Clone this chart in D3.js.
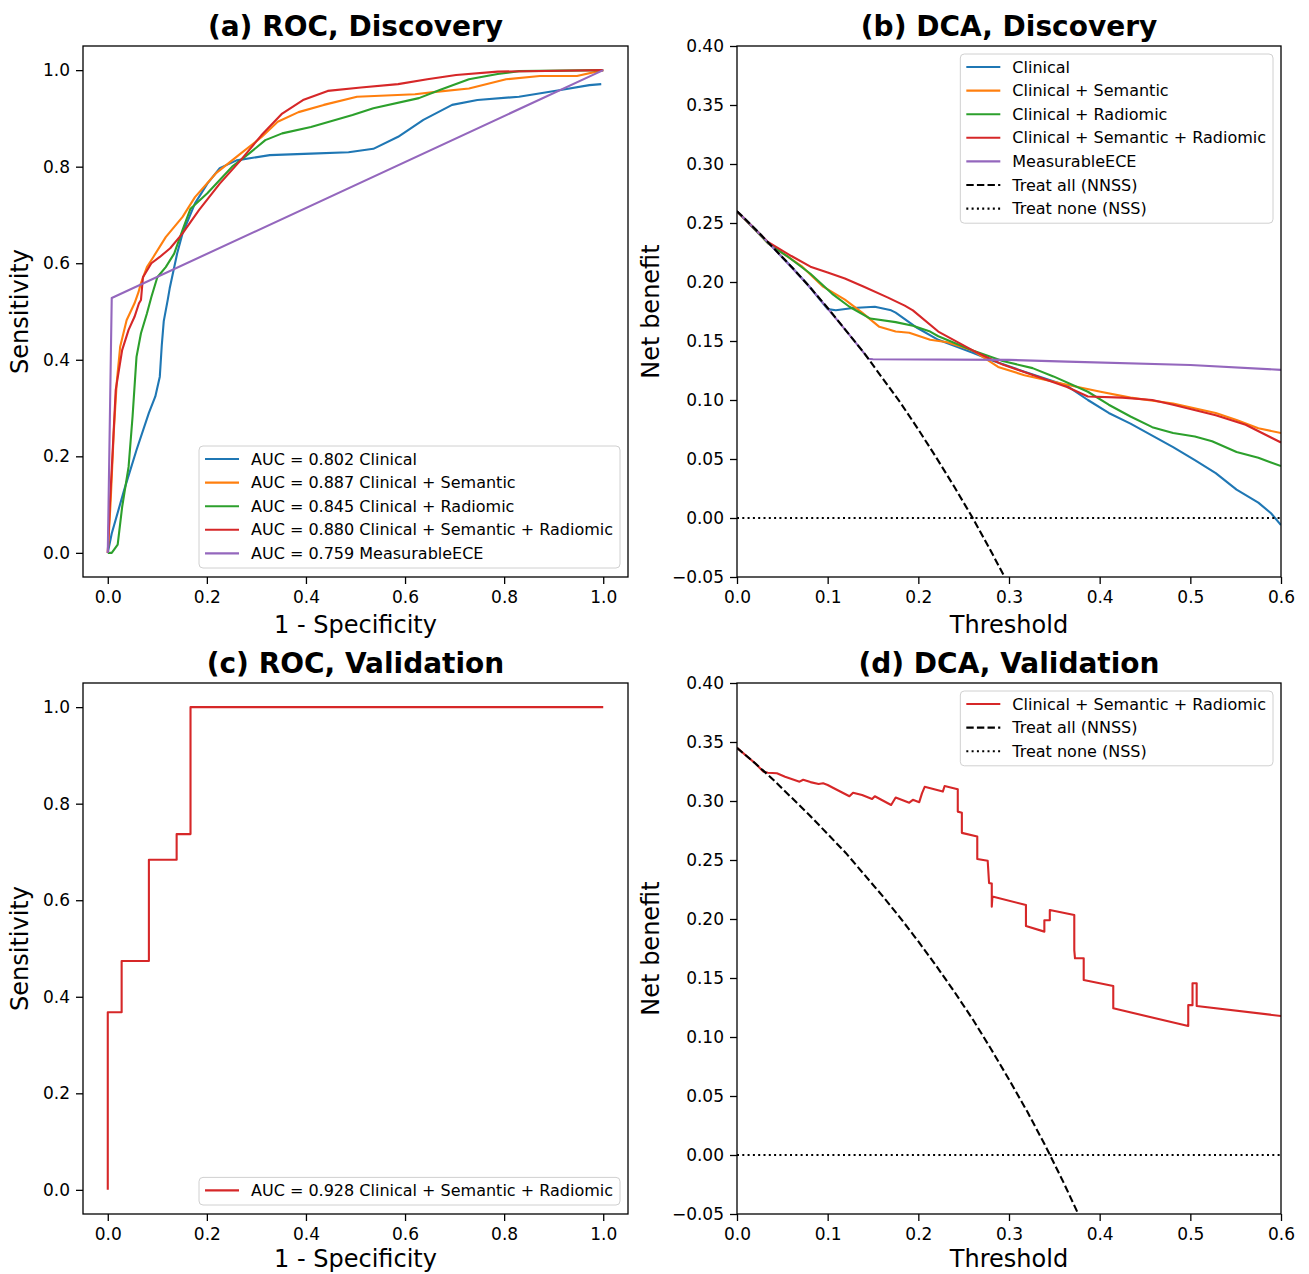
<!DOCTYPE html>
<html>
<head>
<meta charset="utf-8">
<script src="https://cdn.jsdelivr.net/npm/d3@7"></script>
<style>
  body { margin: 0; background: #fff; }
  svg { font-family: 'DejaVu Sans', sans-serif; }
  .tick text { font-size: 17px; fill: #000; }
  .title { font-size: 28px; font-weight: bold; }
  .label { font-size: 24px; }
  .legend text { font-size: 16px; }
</style>
</head>
<body>
<svg width="1309" height="1274"></svg>
<script>
// ---- data ----
const rocTicks = [0, 0.2, 0.4, 0.6, 0.8, 1.0];
const dcaXTicks = [0, 0.1, 0.2, 0.3, 0.4, 0.5, 0.6];
const dcaYTicks = [-0.05, 0, 0.05, 0.10, 0.15, 0.20, 0.25, 0.30, 0.35, 0.40];

const modelNames = ['Clinical', 'Clinical + Semantic', 'Clinical + Radiomic',
  'Clinical + Semantic + Radiomic', 'MeasurableECE'];
const modelColors = ['#1f77b4', '#ff7f0e', '#2ca02c', '#d62728', '#9467bd'];
const aucDiscovery = ['0.802', '0.887', '0.845', '0.880', '0.759'];
const aucValidation = '0.928';

// ROC, discovery: [1 - specificity, sensitivity]
const rocClinical = [[0,0],[0.008,0.04],[0.033,0.13],[0.058,0.213],[0.083,0.29],[0.096,0.324],
  [0.105,0.365],[0.109,0.43],[0.113,0.48],[0.121,0.524],[0.125,0.548],[0.14,0.62],[0.151,0.662],
  [0.176,0.724],[0.201,0.765],[0.226,0.797],[0.26,0.813],[0.327,0.824],[0.41,0.827],[0.486,0.83],
  [0.536,0.837],[0.586,0.862],[0.637,0.897],[0.695,0.928],[0.746,0.938],[0.83,0.945],[0.914,0.959],
  [0.972,0.969],[0.996,0.971]];
const rocSemantic = [[0,0],[0.006,0.11],[0.012,0.248],[0.018,0.352],[0.025,0.427],[0.038,0.482],
  [0.054,0.517],[0.062,0.54],[0.067,0.559],[0.079,0.592],[0.092,0.613],[0.117,0.654],[0.151,0.696],
  [0.176,0.737],[0.218,0.786],[0.268,0.827],[0.31,0.861],[0.343,0.893],[0.385,0.913],[0.436,0.928],
  [0.503,0.945],[0.62,0.95],[0.662,0.955],[0.729,0.962],[0.804,0.981],[0.872,0.988],[0.947,0.988],[1,1]];
const rocRadiomic = [[0,0],[0.008,0],[0.02,0.017],[0.029,0.095],[0.042,0.178],[0.05,0.282],
  [0.058,0.406],[0.067,0.455],[0.079,0.496],[0.088,0.53],[0.1,0.571],[0.117,0.592],[0.134,0.62],
  [0.151,0.669],[0.167,0.713],[0.201,0.745],[0.251,0.8],[0.285,0.827],[0.318,0.855],[0.352,0.869],
  [0.41,0.882],[0.494,0.907],[0.536,0.921],[0.628,0.942],[0.67,0.959],[0.729,0.981],[0.787,0.992],
  [0.83,0.998],[1,1]];
const rocCombined = [[0,0],[0.004,0.095],[0.01,0.213],[0.016,0.337],[0.029,0.42],[0.042,0.462],
  [0.054,0.489],[0.063,0.517],[0.067,0.524],[0.071,0.571],[0.088,0.6],[0.105,0.613],[0.126,0.631],
  [0.151,0.662],[0.184,0.71],[0.226,0.765],[0.268,0.813],[0.31,0.865],[0.352,0.91],[0.394,0.938],
  [0.444,0.957],[0.511,0.964],[0.586,0.971],[0.645,0.981],[0.703,0.99],[0.787,0.997],[1,1]];
const rocMeasurable = [[0,0],[0.008,0.528],[1,1]];

// ROC, validation
const rocValidation = [[0,0],[0,0.368],[0.028,0.368],[0.028,0.474],[0.083,0.474],[0.083,0.684],
  [0.139,0.684],[0.139,0.737],[0.167,0.737],[0.167,1],[1,1]];

// DCA, discovery: [threshold, net benefit]
const dcaClinical = [[0,0.26],[0.02,0.245],[0.04,0.229],[0.06,0.213],[0.08,0.196],[0.1,0.177],
  [0.109,0.176],[0.128,0.178],[0.152,0.179],[0.17,0.176],[0.175,0.174],[0.199,0.161],[0.222,0.151],
  [0.26,0.14],[0.283,0.133],[0.317,0.124],[0.364,0.112],[0.387,0.1],[0.41,0.089],[0.434,0.08],
  [0.481,0.06],[0.505,0.049],[0.528,0.038],[0.551,0.024],[0.575,0.013],[0.589,0.004],[0.6,-0.006]];
const dcaSemantic = [[0,0.26],[0.034,0.233],[0.072,0.213],[0.095,0.196],[0.119,0.185],[0.138,0.174],
  [0.157,0.162],[0.175,0.158],[0.19,0.157],[0.213,0.151],[0.232,0.149],[0.26,0.142],[0.288,0.128],
  [0.317,0.121],[0.364,0.113],[0.401,0.107],[0.434,0.102],[0.481,0.097],[0.528,0.089],[0.551,0.083],
  [0.575,0.076],[0.6,0.072]];
const dcaRadiomic = [[0,0.26],[0.034,0.233],[0.057,0.221],[0.081,0.207],[0.105,0.19],[0.124,0.179],
  [0.147,0.169],[0.175,0.166],[0.194,0.163],[0.213,0.158],[0.222,0.154],[0.26,0.142],[0.293,0.133],
  [0.326,0.127],[0.349,0.12],[0.387,0.107],[0.41,0.096],[0.434,0.086],[0.458,0.077],[0.481,0.072],
  [0.505,0.069],[0.524,0.065],[0.551,0.056],[0.575,0.051],[0.6,0.044]];
const dcaCombined = [[0,0.26],[0.034,0.234],[0.06,0.222],[0.081,0.213],[0.1,0.208],[0.119,0.203],
  [0.14,0.196],[0.166,0.187],[0.185,0.18],[0.194,0.176],[0.222,0.158],[0.26,0.142],[0.293,0.13],
  [0.331,0.12],[0.364,0.111],[0.387,0.103],[0.425,0.102],[0.458,0.1],[0.481,0.096],[0.528,0.087],
  [0.561,0.079],[0.6,0.064]];
const dcaMeasurable = [[0,0.26],[0.04,0.229],[0.08,0.196],[0.12,0.159],[0.145,0.135],[0.15,0.1345],
  [0.3,0.134],[0.364,0.1325],[0.5,0.1297],[0.6,0.1255]];
const treatAllDiscovery = [[0,0.26],[0.02,0.245],[0.04,0.229],[0.06,0.213],[0.08,0.196],[0.1,0.178],
  [0.12,0.159],[0.14,0.14],[0.16,0.119],[0.18,0.098],[0.2,0.075],[0.22,0.051],[0.24,0.026],
  [0.26,0],[0.28,-0.028],[0.3,-0.057]];
const treatNone = [[0,0],[0.6,0]];

// DCA, validation
const dcaValidation = [[0,0.345],[0.02,0.332],[0.029,0.325],[0.034,0.324],[0.044,0.3235],[0.053,0.3206],
  [0.069,0.3164],[0.073,0.318],[0.081,0.316],[0.09,0.3144],[0.095,0.315],[0.1,0.3136],[0.109,0.31],
  [0.124,0.304],[0.128,0.307],[0.138,0.305],[0.149,0.3017],[0.152,0.304],[0.17,0.2966],[0.175,0.303],
  [0.19,0.2986],[0.194,0.301],[0.201,0.299],[0.204,0.3065],[0.207,0.312],[0.227,0.308],[0.229,0.3127],
  [0.2435,0.31],[0.2435,0.291],[0.248,0.29],[0.248,0.273],[0.265,0.27],[0.265,0.2508],[0.2765,0.2494],
  [0.278,0.2305],[0.281,0.23],[0.281,0.2104],[0.2817,0.219],[0.3187,0.2119],[0.3187,0.194],
  [0.339,0.1893],[0.339,0.199],[0.345,0.199],[0.345,0.2076],[0.372,0.2034],[0.372,0.1737],
  [0.3728,0.1667],[0.3824,0.1667],[0.3824,0.1483],[0.415,0.1432],[0.415,0.1243],[0.4977,0.1093],
  [0.4977,0.127],[0.5024,0.127],[0.5024,0.1455],[0.507,0.1455],[0.507,0.1263],[0.6,0.1178]];
const treatAllValidation = [[0,0.345],[0.02,0.332],[0.04,0.318],[0.06,0.303],[0.08,0.288],[0.1,0.272],
  [0.12,0.256],[0.14,0.238],[0.16,0.22],[0.18,0.201],[0.2,0.181],[0.22,0.16],[0.24,0.138],[0.26,0.115],
  [0.28,0.09],[0.3,0.064],[0.32,0.037],[0.34,0.008],[0.36,-0.023],[0.38,-0.056]];

// ---- drawing ----
const svg = d3.select('svg');
const dashed = '7.4,3.2';
const dotted = '2,3.3';

function panel(opt) {
  const x = d3.scaleLinear().domain(opt.xDomain).range([opt.left, opt.right]);
  const y = d3.scaleLinear().domain(opt.yDomain).range([opt.bottom, opt.top]);
  const g = svg.append('g');

  svg.append('clipPath').attr('id', 'clip-' + opt.id)
    .append('rect')
    .attr('x', opt.left).attr('y', opt.top)
    .attr('width', opt.right - opt.left).attr('height', opt.bottom - opt.top);

  const xAxis = g.append('g')
    .attr('transform', `translate(0, ${opt.bottom})`)
    .call(d3.axisBottom(x).tickValues(opt.xTicks).tickFormat(d3.format('.1f'))
      .tickSize(7).tickPadding(7));
  const yAxis = g.append('g')
    .attr('transform', `translate(${opt.left}, 0)`)
    .call(d3.axisLeft(y).tickValues(opt.yTicks).tickFormat(d3.format(opt.yFormat))
      .tickSize(7).tickPadding(6));
  [xAxis, yAxis].forEach(a => {
    a.attr('font-size', null).attr('font-family', null);
    a.select('.domain').remove();
    a.selectAll('.tick line').attr('stroke', '#000').attr('stroke-width', 1.3);
  });

  const line = d3.line().x(d => x(d[0])).y(d => y(d[1]));
  g.append('g')
    .attr('clip-path', `url(#clip-${opt.id})`)
    .selectAll('path')
    .data(opt.series)
    .enter()
    .append('path')
    .attr('d', s => line(s.values))
    .attr('fill', 'none')
    .attr('stroke', s => s.color)
    .attr('stroke-width', 2.1)
    .attr('stroke-dasharray', s => s.dash || null)
    .attr('stroke-linejoin', 'round');

  // frame
  g.append('rect')
    .attr('x', opt.left).attr('y', opt.top)
    .attr('width', opt.right - opt.left).attr('height', opt.bottom - opt.top)
    .attr('fill', 'none').attr('stroke', '#000').attr('stroke-width', 1.3);

  g.append('text')
    .attr('class', 'title')
    .attr('x', (opt.left + opt.right) / 2)
    .attr('y', opt.top - 10)
    .attr('text-anchor', 'middle')
    .text(opt.title);

  g.append('text')
    .attr('class', 'label')
    .attr('x', (opt.left + opt.right) / 2)
    .attr('y', Math.min(opt.bottom + 56, 1267))
    .attr('text-anchor', 'middle')
    .text(opt.xLabel);

  g.append('text')
    .attr('class', 'label')
    .attr('transform', `translate(${opt.left - opt.yLabelOffset}, ${(opt.top + opt.bottom) / 2}) rotate(-90)`)
    .attr('text-anchor', 'middle')
    .text(opt.yLabel);

  // legend
  const items = opt.series.filter(s => s.label);
  const rowH = 23.6;
  const leg = g.append('g').attr('class', 'legend');
  const box = leg.append('rect')
    .attr('rx', 4)
    .attr('fill', '#fff').attr('fill-opacity', 0.8)
    .attr('stroke', '#d0d0d0').attr('stroke-width', 1);
  const rows = leg.selectAll('.row')
    .data(items)
    .enter()
    .append('g')
    .attr('class', 'row')
    .attr('transform', (d, i) => `translate(0, ${13 + i * rowH})`);
  rows.append('line')
    .attr('x1', 6).attr('x2', 40)
    .attr('stroke', d => d.color)
    .attr('stroke-width', 2.1)
    .attr('stroke-dasharray', d => d.dash || null);
  rows.append('text')
    .attr('x', 52)
    .attr('dy', '0.35em')
    .text(d => d.label);
  const textW = d3.max(rows.selectAll('text').nodes(), n => n.getComputedTextLength());
  const w = 52 + textW + 7;
  const h = 27.6 + (items.length - 1) * rowH;
  box.attr('width', w).attr('height', h);
  const lx = opt.right - 8 - w;
  const ly = opt.legendPos === 'lower' ? opt.bottom - 9 - h : opt.top + 8;
  leg.attr('transform', `translate(${lx}, ${ly})`);
}

const rocDiscSeries = [rocClinical, rocSemantic, rocRadiomic, rocCombined, rocMeasurable]
  .map((v, i) => ({ values: v, color: modelColors[i], label: `AUC = ${aucDiscovery[i]} ${modelNames[i]}` }));

const dcaDiscSeries = [dcaClinical, dcaSemantic, dcaRadiomic, dcaCombined, dcaMeasurable]
  .map((v, i) => ({ values: v, color: modelColors[i], label: modelNames[i] }))
  .concat([
    { values: treatAllDiscovery, color: '#000', dash: dashed, label: 'Treat all (NNSS)' },
    { values: treatNone, color: '#000', dash: dotted, label: 'Treat none (NSS)' }
  ]);

panel({
  id: 'a', left: 83, right: 628, top: 46, bottom: 577,
  xDomain: [-0.05, 1.05], yDomain: [-0.05, 1.05],
  xTicks: rocTicks, yTicks: rocTicks, yFormat: '.1f',
  title: '(a) ROC, Discovery', xLabel: '1 - Specificity', yLabel: 'Sensitivity', yLabelOffset: 55,
  series: rocDiscSeries, legendPos: 'lower'
});

panel({
  id: 'b', left: 737, right: 1281, top: 46, bottom: 577,
  xDomain: [0, 0.6], yDomain: [-0.05, 0.4],
  xTicks: dcaXTicks, yTicks: dcaYTicks, yFormat: '.2f',
  title: '(b) DCA, Discovery', xLabel: 'Threshold', yLabel: 'Net benefit', yLabelOffset: 78,
  series: dcaDiscSeries, legendPos: 'upper'
});

panel({
  id: 'c', left: 83, right: 628, top: 683, bottom: 1214,
  xDomain: [-0.05, 1.05], yDomain: [-0.05, 1.05],
  xTicks: rocTicks, yTicks: rocTicks, yFormat: '.1f',
  title: '(c) ROC, Validation', xLabel: '1 - Specificity', yLabel: 'Sensitivity', yLabelOffset: 55,
  series: [{ values: rocValidation, color: modelColors[3], label: `AUC = ${aucValidation} ${modelNames[3]}` }],
  legendPos: 'lower'
});

panel({
  id: 'd', left: 737, right: 1281, top: 683, bottom: 1214,
  xDomain: [0, 0.6], yDomain: [-0.05, 0.4],
  xTicks: dcaXTicks, yTicks: dcaYTicks, yFormat: '.2f',
  title: '(d) DCA, Validation', xLabel: 'Threshold', yLabel: 'Net benefit', yLabelOffset: 78,
  series: [
    { values: dcaValidation, color: modelColors[3], label: modelNames[3] },
    { values: treatAllValidation, color: '#000', dash: dashed, label: 'Treat all (NNSS)' },
    { values: treatNone, color: '#000', dash: dotted, label: 'Treat none (NSS)' }
  ],
  legendPos: 'upper'
});
</script>
</body>
</html>
